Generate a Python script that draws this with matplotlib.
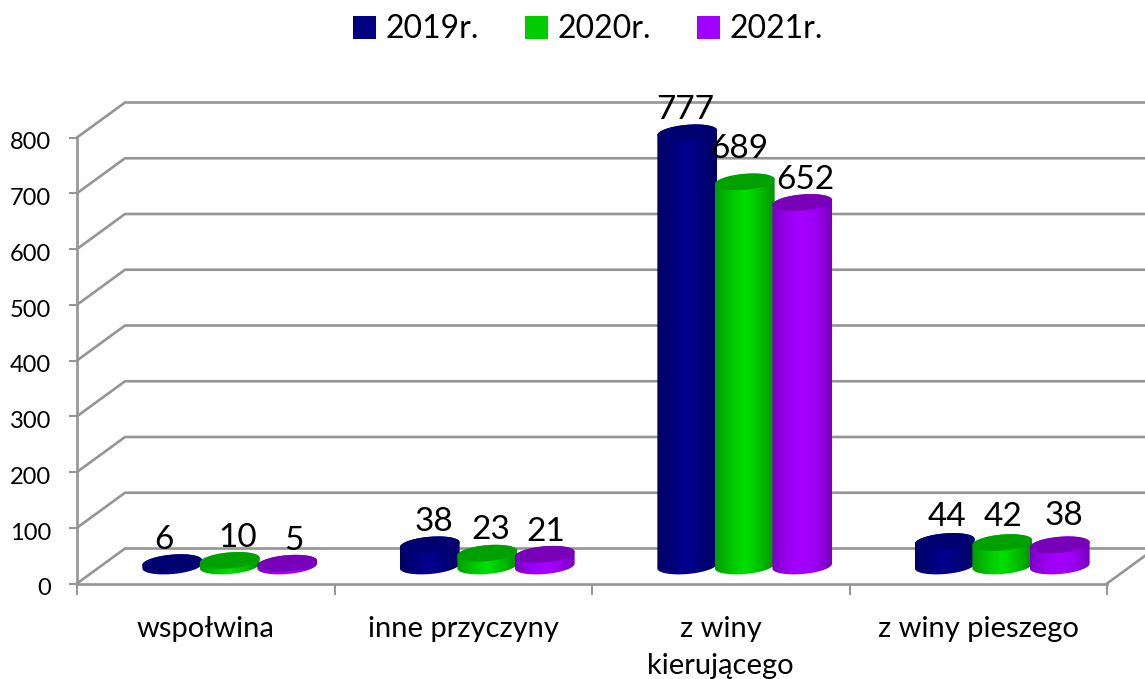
import numpy as np
import matplotlib
matplotlib.use("Agg")
import matplotlib.pyplot as plt
from matplotlib.colors import LinearSegmentedColormap
from matplotlib.patches import Patch, Polygon
from matplotlib.transforms import ScaledTranslation

plt.rcParams["font.family"] = ["Lato", "DejaVu Sans"]

categories = ["wspołwina", "inne przyczyny", "z winy\nkierującego", "z winy pieszego"]
series_names = ["2019r.", "2020r.", "2021r."]
values_2019 = [6, 38, 777, 44]
values_2020 = [10, 23, 689, 42]
values_2021 = [5, 21, 652, 38]
y_ticks = [0, 100, 200, 300, 400, 500, 600, 700, 800]

# edge / middle colours of each cylinder, then the darker lid
legend_colors = ["#000080", "#00cc00", "#a000ff"]
body_colors = [
    ["#000064", "#00007c", "#000090", "#00007a", "#000064"],
    ["#009c00", "#00c400", "#00e000", "#00c000", "#009400"],
    ["#7c00c4", "#9800f0", "#a600ff", "#9a00f0", "#7800bc"],
]
lid_colors = ["#000070", "#00a000", "#7800b8"]
grid_color = "#959595"

# picture scale: one category and one value unit in pixels
PX_X = 257.5
PX_Y = 0.5575
LEFT = 77
BOTTOM = 583.5
DEPTH_X = 48 / PX_X
DEPTH_Y = 35 / PX_Y
BAR_STEP = 57.5 / PX_X
RX, RY = 30, 8
TILT = np.radians(5)

# small shifts of the value labels, pixels
label_shift = [[-8, 4, -2, 2], [8, 4, -5, 1], [7, 1, 3, 4]]
label_lift = [[0, 0, 0, 2], [0, 1, 10, 3], [0, 0, 0, 6]]


def ellipse(cx, cy, t):
    dx = RX * np.cos(t) * np.cos(TILT) - RY * np.sin(t) * np.sin(TILT)
    dy = RX * np.cos(t) * np.sin(TILT) + RY * np.sin(t) * np.cos(TILT)
    return np.column_stack([cx + dx / PX_X, cy + dy / PX_Y])


def draw_cylinder(ax, x, y0, value, s):
    top = y0 + value
    lower = ellipse(x, y0, np.linspace(np.pi, 2 * np.pi, 40))
    upper = ellipse(x, top, np.linspace(0, np.pi, 40))
    body = Polygon(np.vstack([lower, upper]), closed=True, fc="none", ec="none",
                   transform=ax.transData)
    ax.add_patch(body)
    cmap = LinearSegmentedColormap.from_list("body", body_colors[s])
    im = ax.imshow(np.linspace(0, 1, 64).reshape(1, -1), cmap=cmap, aspect="auto",
                   extent=[x - RX / PX_X, x + RX / PX_X, y0 - 2 * RY / PX_Y, top + 2 * RY / PX_Y],
                   zorder=3 + s)
    im.set_clip_path(body)
    lid = ellipse(x, top, np.linspace(0, 2 * np.pi, 80))
    ax.add_patch(Polygon(lid, closed=True, fc=lid_colors[s], ec="none", zorder=3 + s))


fig = plt.figure(figsize=(11.45, 6.79), dpi=100)
ax = fig.add_axes([0, 0, 1, 1])
ax.set_autoscale_on(False)
xlim = (-LEFT / PX_X, (1145 - LEFT) / PX_X)
ylim = ((BOTTOM - 679) / PX_Y, BOTTOM / PX_Y)
ax.set_xlim(xlim)
ax.set_ylim(ylim)
ax.patch.set_visible(False)

# walls and floor
for v in y_ticks:
    ax.plot([0, DEPTH_X, xlim[1]], [v, v + DEPTH_Y, v + DEPTH_Y],
            color=grid_color, lw=1.9, zorder=1, solid_joinstyle="miter")
right = len(categories)
ax.plot([right, right + DEPTH_X], [0, DEPTH_Y], color=grid_color, lw=1.9, zorder=1)

for spine in ["top", "right"]:
    ax.spines[spine].set_visible(False)
ax.spines["left"].set_position(("data", 0))
ax.spines["left"].set_bounds(0, 800)
ax.spines["bottom"].set_position(("data", 0))
ax.spines["bottom"].set_bounds(0, right)
for spine in ["left", "bottom"]:
    ax.spines[spine].set_color(grid_color)
    ax.spines[spine].set_linewidth(1.9)

ax.set_yticks(y_ticks)
ax.tick_params(axis="y", length=5.5, width=1.4, color=grid_color, pad=13, labelsize=17)
# the tick labels sit a little below their ticks in the original
down = ScaledTranslation(0, -2.5 / 72, fig.dpi_scale_trans)
for label in ax.get_yticklabels():
    label.set_transform(label.get_transform() + down)
ax.set_xticks(np.arange(right + 1))
ax.set_xticklabels([])
ax.tick_params(axis="x", which="major", length=8, width=1.4, color=grid_color)
ax.set_xticks(np.arange(right) + 0.5, minor=True)
ax.set_xticklabels(categories, minor=True, fontsize=21, linespacing=1.5)
ax.tick_params(axis="x", which="minor", length=0, pad=23.5)

# cylinders and their value labels
all_values = [values_2019, values_2020, values_2021]
for s, values in enumerate(all_values):
    for i, value in enumerate(values):
        x = i + 0.5 + DEPTH_X / 2 + (s - 1) * BAR_STEP
        y0 = DEPTH_Y / 2
        draw_cylinder(ax, x, y0, value, s)
        ax.annotate(str(value), (x, y0 + value),
                    xytext=(label_shift[s][i] * 0.72, 16.3 + label_lift[s][i] * 0.72),
                    textcoords="offset points", ha="center", va="center",
                    fontsize=24, color="black", zorder=10)

handles = [Patch(fc=c, ec="none") for c in legend_colors]
ax.legend(handles, series_names, loc="center", bbox_to_anchor=(588 / 1145, 1 - 29.5 / 679),
          bbox_transform=fig.transFigure, ncol=3, frameon=False, fontsize=23,
          handlelength=0.72, handleheight=0.72, handletextpad=0.3, columnspacing=1.43)

ax.set_xlim(xlim)
ax.set_ylim(ylim)
fig.savefig("out.png", dpi=100)
